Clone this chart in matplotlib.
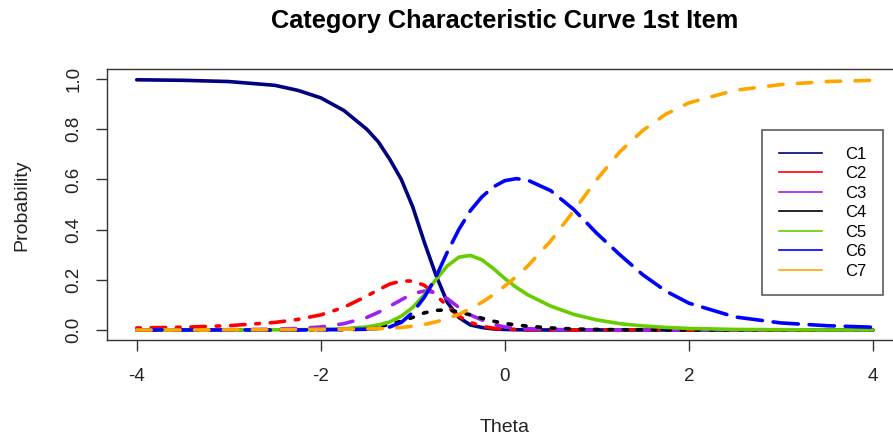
import matplotlib
matplotlib.use("Agg")
import matplotlib.pyplot as plt
from matplotlib.lines import Line2D

# values
theta = [-4, -3.5, -3, -2.5, -2.25, -2, -1.75, -1.5, -1.375, -1.25, -1.125, -1,
         -0.875, -0.75, -0.625, -0.5, -0.375, -0.25, -0.125, 0, 0.125, 0.25,
         0.5, 0.75, 1, 1.25, 1.5, 1.75, 2, 2.5, 3, 3.5, 4]

c1 = [0.997, 0.995, 0.99, 0.975, 0.955, 0.925, 0.875, 0.80, 0.75, 0.68, 0.60, 0.49,
      0.35, 0.22, 0.11, 0.05, 0.02, 0.01, 0.004, 0.002, 0.001, 0,
      0, 0, 0, 0, 0, 0, 0, 0, 0, 0, 0]
c2 = [0.008, 0.011, 0.017, 0.03, 0.042, 0.06, 0.09, 0.135, 0.16, 0.183, 0.195, 0.195,
      0.178, 0.14, 0.095, 0.055, 0.03, 0.015, 0.007, 0.003, 0.002, 0.001,
      0, 0, 0, 0, 0, 0, 0, 0, 0, 0, 0]
c3 = [0, 0, 0.001, 0.003, 0.006, 0.012, 0.025, 0.05, 0.07, 0.095, 0.12, 0.145,
      0.155, 0.15, 0.125, 0.09, 0.06, 0.04, 0.022, 0.012, 0.008, 0.005,
      0.002, 0.001, 0, 0, 0, 0, 0, 0, 0, 0, 0]
c4 = [0, 0, 0, 0, 0.0005, 0.001, 0.003, 0.008, 0.013, 0.022, 0.035, 0.05,
      0.068, 0.078, 0.08, 0.072, 0.06, 0.047, 0.035, 0.026, 0.02, 0.015,
      0.008, 0.004, 0.002, 0.001, 0.0005, 0, 0, 0, 0, 0, 0]
c5 = [0, 0, 0, 0.0005, 0.001, 0.002, 0.005, 0.012, 0.02, 0.032, 0.055, 0.09,
      0.14, 0.20, 0.255, 0.29, 0.297, 0.28, 0.245, 0.205, 0.17, 0.14,
      0.095, 0.062, 0.04, 0.025, 0.016, 0.01, 0.006, 0.002, 0.001, 0, 0]
c6 = [0, 0, 0, 0, 0, 0.001, 0.001, 0.003, 0.006, 0.012, 0.03, 0.07,
      0.13, 0.21, 0.31, 0.40, 0.475, 0.53, 0.57, 0.595, 0.603, 0.597,
      0.555, 0.48, 0.385, 0.30, 0.22, 0.155, 0.107, 0.052, 0.028, 0.017, 0.011]
c7 = [0, 0, 0.0005, 0.001, 0.0015, 0.002, 0.003, 0.004, 0.005, 0.007, 0.01, 0.015,
      0.022, 0.032, 0.045, 0.062, 0.085, 0.11, 0.14, 0.175, 0.213, 0.255,
      0.355, 0.475, 0.60, 0.71, 0.795, 0.86, 0.905, 0.955, 0.978, 0.99, 0.995]

labels = ["C1", "C2", "C3", "C4", "C5", "C6", "C7"]
colors = ["#000080", "#FF0000", "#A020F0", "#000000", "#66CD00", "#0000FF", "#FFA500"]
# R style line types: solid, dotdash, dashed, dotted, solid, longdash, dashed
dashes = [None, (1, 3, 4, 3), (4, 4), (1, 3), None, (7, 3), (4, 4)]

plt.rcParams["font.family"] = ["Liberation Sans", "DejaVu Sans"]

fig = plt.figure(figsize=(8.93, 4.41), dpi=100)
# the right edge of the plot box runs past the picture in the reference
ax = fig.add_axes([107.3 / 893, 101 / 441, 795 / 893, 271 / 441])

for ys, col, d, lab in zip([c1, c2, c3, c4, c5, c6, c7], colors, dashes, labels):
    ln, = ax.plot(theta, ys, color=col, lw=2.6, label=lab,
                  solid_capstyle="round", dash_capstyle="round")
    if d is not None:
        ln.set_dashes(d)

ax.set_xlim(-4.32, 4.32)
ax.set_ylim(-0.04, 1.04)
ax.set_xticks([-4, -2, 0, 2, 4])
ax.set_xticklabels(["-4", "-2", "0", "2", "4"])
ax.set_yticks([0, 0.2, 0.4, 0.6, 0.8, 1.0])
ax.set_yticklabels(["0.0", "0.2", "0.4", "0.6", "0.8", "1.0"], rotation=90, va="center")
ax.tick_params(axis="both", direction="out", length=8, width=1, color="#333333",
               labelsize=13.5, labelcolor="#222222")
ax.tick_params(axis="x", pad=12)
ax.tick_params(axis="y", pad=10)
for s in ax.spines.values():
    s.set_linewidth(1)
    s.set_color("#333333")

fig.text(504.5 / 893, 1 - 21 / 441, "Category Characteristic Curve 1st Item",
         ha="center", va="center", fontsize=18.3, fontweight="bold")
fig.text(504.5 / 893, 1 - 428 / 441, "Theta", ha="center", va="center",
         fontsize=14, color="#222222")
fig.text(22 / 893, 1 - 205 / 441, "Probability", ha="center", va="center",
         rotation=90, fontsize=14, color="#222222")

handles = [Line2D([], [], color=c, lw=1.2) for c in colors]
leg = ax.legend(handles, labels, loc="upper left",
                bbox_to_anchor=(762 / 893, 1 - 130 / 441),
                bbox_transform=fig.transFigure, fontsize=12, frameon=True,
                fancybox=False, handlelength=2.6, handletextpad=1.4,
                labelspacing=0.27, borderpad=1.0, borderaxespad=0)
leg.get_frame().set_edgecolor("#333333")
leg.get_frame().set_linewidth(1.2)

fig.savefig("out.png", dpi=100)
